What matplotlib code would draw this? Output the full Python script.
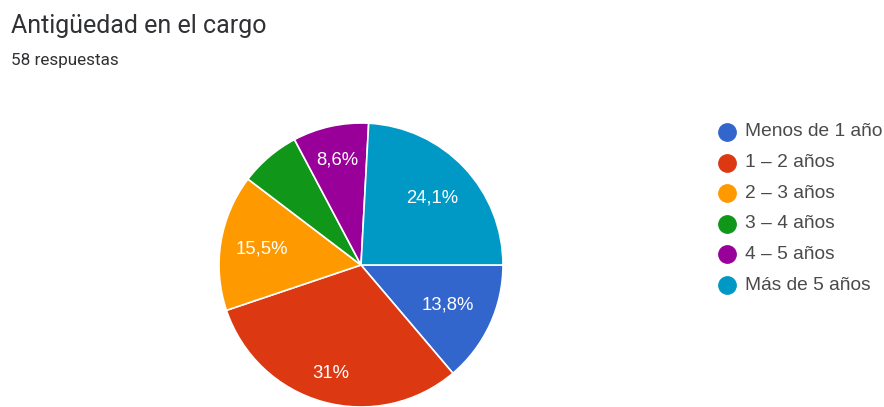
import numpy as np
import matplotlib
matplotlib.use("Agg")
import matplotlib.pyplot as plt
from matplotlib.lines import Line2D

# Survey answers: years in the position
categories = ["Menos de 1 año", "1 – 2 años", "2 – 3 años", "3 – 4 años", "4 – 5 años", "Más de 5 años"]
counts = [8, 18, 9, 4, 5, 14]
colors = ["#3366CC", "#DC3912", "#FF9900", "#109618", "#990099", "#0099C6"]
title = "Antigüedad en el cargo"
subtitle = "58 respuestas"

W, H = 884, 407
fig = plt.figure(figsize=(W / 100, H / 100), dpi=100)
fig.patch.set_facecolor("white")


def fx(px):
    return px / W


def fy(py):
    return 1 - py / H


# Header
fig.text(fx(11), fy(33), title, fontsize=18, family="Roboto", color="#303134", va="baseline")
fig.text(fx(11), fy(65), subtitle, fontsize=12.3, family="Roboto", color="#303134", va="baseline")

# Pie, starting at 3 o'clock and running clockwise
cx, cy, r = 361, 265, 142
ax = fig.add_axes([fx(cx - r), fy(cy + r), (2 * r) / W, (2 * r) / H])
wedges, _ = ax.pie(counts, colors=colors, startangle=0, counterclock=False,
                   radius=1.0, wedgeprops=dict(edgecolor="white", linewidth=1.2))
ax.set_xlim(-1, 1)
ax.set_ylim(-1, 1)
ax.set_aspect("equal")
ax.axis("off")

# Percentage labels inside the slices
total = sum(counts)
label_dist = [0.67, 0.79, 0.71, 0.70, 0.76, 0.69]
for w, c, d in zip(wedges, counts, label_dist):
    pct = c / total * 100
    if pct < 7:
        continue
    txt = f"{pct:.1f}".rstrip("0").rstrip(".").replace(".", ",") + "%"
    ang = np.deg2rad((w.theta1 + w.theta2) / 2)
    ax.text(d * np.cos(ang), d * np.sin(ang), txt, ha="center", va="center",
            color="white", fontsize=13.3, family="Liberation Sans")

# Legend with round markers
y0, dy = 132, 30.6
for i, (lab, col) in enumerate(zip(categories, colors)):
    y = y0 + i * dy
    fig.add_artist(Line2D([fx(727)], [fy(y)], marker="o", markersize=12.5,
                          markerfacecolor=col, markeredgecolor=col, linestyle="",
                          transform=fig.transFigure))
    fig.text(fx(745), fy(y), lab, fontsize=13.8, family="Liberation Sans",
             color="#4a4a4a", va="center", ha="left")

fig.savefig("out.png", dpi=100)
